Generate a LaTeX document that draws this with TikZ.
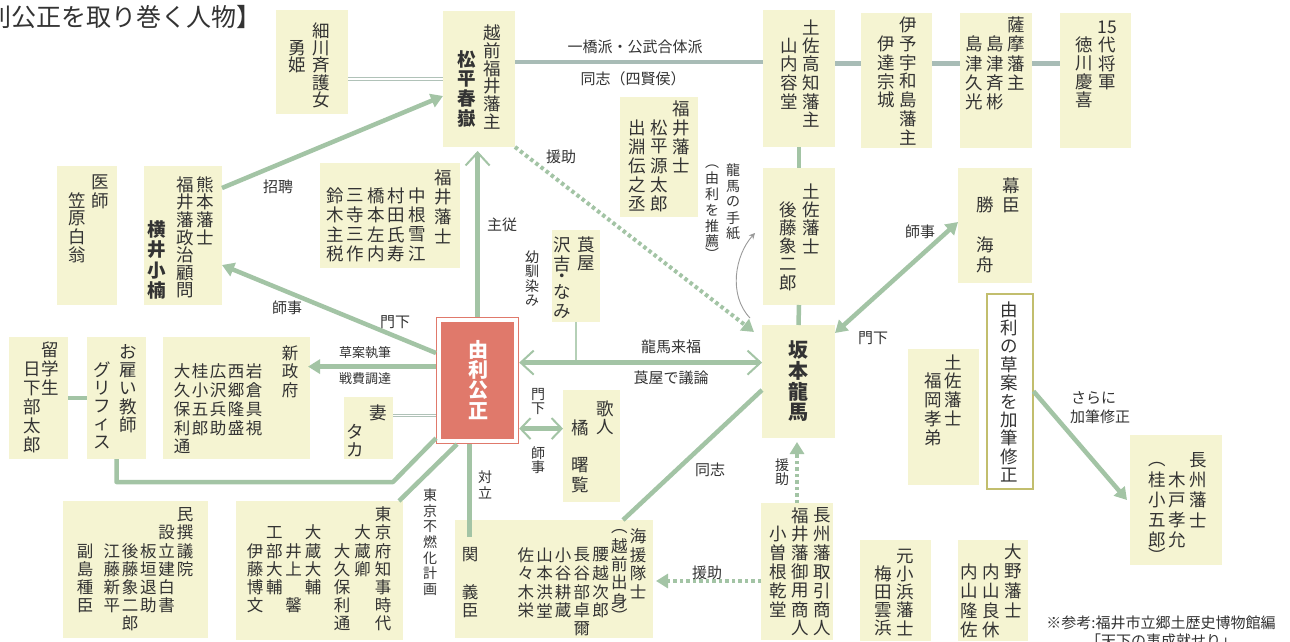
\documentclass[tikz,border=0pt]{standalone}
\usepackage{fontspec}
\setmainfont{Noto Sans CJK JP}
\usetikzlibrary{arrows.meta}
\definecolor{boxfill}{HTML}{F5F4D2}
\definecolor{lnk}{HTML}{A3C4A5}
\definecolor{toplnk}{HTML}{A8BCB6}
\definecolor{dblclr}{HTML}{B0C2B8}
\definecolor{txt}{HTML}{333333}
\definecolor{yuriclr}{HTML}{E0796B}
\definecolor{soanclr}{HTML}{C2BE6E}
\definecolor{curvclr}{HTML}{9A9A9A}
\ExplSyntaxOn
\dim_new:N \l_vt_colw_dim
\dim_new:N \l_vt_rowh_dim
\seq_new:N \l_vt_cols_seq
\cs_new_protected:Npn \vt_cell:nn #1#2
  {
    \hbox_to_wd:nn { \l_vt_colw_dim }
      { \hss \vbox_to_ht:nn { #1 \l_vt_rowh_dim } { \vss \hbox:n {#2} \vss } \hss }
  }
\cs_new_protected:Npn \vt_char:n #1
  {
    \str_case:nnF {#1}
      {
        { ︵ } { \vt_cell:nn { 0.5 } {#1} }
        { ︶ } { \vt_cell:nn { 0.5 } {#1} }
        { ・ } { \vt_cell:nn { 0.5 } {#1} }
        { . } { \vt_cell:nn { 0.5 } { } }
      }
      { \vt_cell:nn { 1 } {#1} }
  }
\cs_new_protected:Npn \vt_col:n #1
  {
    \vbox_top:n
      {
        \offinterlineskip
        \hbox_to_wd:nn { \l_vt_colw_dim } { }
        \tl_map_function:nN {#1} \vt_char:n
      }
  }
\NewDocumentCommand \vt { m m m }
  {
    \dim_set:Nn \l_vt_colw_dim {#1}
    \dim_set:Nn \l_vt_rowh_dim {#2}
    \seq_set_split:Nnn \l_vt_cols_seq { | } {#3}
    \seq_reverse:N \l_vt_cols_seq
    \hbox:n { \seq_map_function:NN \l_vt_cols_seq \vt_col:n }
  }
\ExplSyntaxOff
\tikzset{
  ybox/.style={fill=boxfill, draw=none, inner sep=0pt, outer sep=0pt, anchor=north west},
  vtxt/.style={anchor=north east, inner sep=0pt, outer sep=0pt, text=txt, font=\fontsize{17.5}{17.5}\selectfont},
  vsmall/.style={font=\fontsize{16.5}{16.5}\selectfont},
  vbold/.style={font=\fontsize{18.5}{18.5}\selectfont\bfseries},
  vbig/.style={font=\fontsize{20}{20}\selectfont\bfseries},
  vyuri/.style={font=\fontsize{20}{20}\selectfont\bfseries, text=white},
  vlbl/.style={font=\fontsize{14}{14}\selectfont},
  lbl/.style={inner sep=0pt, text=txt, font=\fontsize{15}{15}\selectfont},
  slbl/.style={inner sep=0pt, text=txt, font=\fontsize{13}{13}\selectfont},
  link/.style={draw=lnk, line width=4.5pt},
  toplink/.style={draw=toplnk, line width=4.5pt},
  dbllink/.style={draw=dblclr, double=white, line width=1pt, double distance=1.6pt},
  dotlink/.style={draw=lnk, line width=4pt, dash pattern=on 3.5pt off 3pt},
  thinlink/.style={draw=lnk!80, line width=2pt},
  curvlink/.style={draw=curvclr, line width=0.9pt},
  tritip/.style={-{Triangle[length=12pt,width=14pt]}},
  bothtri/.style={{Triangle[length=12pt,width=14pt]}-{Triangle[length=12pt,width=14pt]}},
  barbtip/.style={-{Straight Barb[length=13pt,width=24pt,line width=2pt]}},
  bothbarb/.style={{Straight Barb[length=13pt,width=24pt,line width=2pt]}-{Straight Barb[length=13pt,width=24pt,line width=2pt]}},
  smallbarb/.style={{Straight Barb[length=10pt,width=21pt,line width=2pt]}-{Straight Barb[length=10pt,width=21pt,line width=2pt]}},
}
\newcommand\ybox[5]{\node[ybox,minimum width={#4pt-#2pt},minimum height={#5pt-#3pt}] (#1) at (#2,#3) {};}
\newcommand\vtn[7][]{\node[vtxt,#1] (#2) at ({#3+#5/2},{#4-#6/2}) {\vt{#5pt}{#6pt}{#7}};}
\begin{document}
\begin{tikzpicture}[x=1pt,y=-1pt]
\useasboundingbox (0,0) rectangle (1290,642);
\clip (0,0) rectangle (1290,642);
\fill[white] (0,0) rectangle (1290,642);
% boxes
\ybox{hosokawa}{276}{10}{348}{114}
\ybox{matsu}{443}{11}{515}{147}
\ybox{yamauchi}{763}{10}{835}{147}
\ybox{date}{861}{13}{932}{148}
\ybox{shimazu}{960}{13}{1032}{148}
\ybox{tokugawa}{1060}{13}{1131}{148}
\ybox{fukui}{620}{97}{698}{217}
\ybox{kasahara}{57}{166}{117}{305}
\ybox{yokoi}{144}{166}{222}{305}
\ybox{nakane}{320}{163}{460}{268}
\ybox{tabako}{552}{230}{600}{322}
\ybox{goto}{763}{168}{835}{305}
\ybox{katsu}{958}{168}{1032}{283}
\ybox{sakamoto}{762}{325}{835}{438}
\ybox{fukuoka}{908}{349}{979}{485}
\ybox{kido}{1130}{435}{1222}{565}
\ybox{kusakabe}{9}{337}{68}{459}
\ybox{griffis}{87}{337}{146}{459}
\ybox{seifu}{163}{337}{310}{459}
\ybox{tsuma}{344}{397}{393}{459}
\ybox{minsen}{63}{501}{208}{638}
\ybox{tokyo}{236}{501}{403}{640}
\ybox{kaien}{455}{520}{653}{638}
\ybox{choshu}{761}{503}{833}{640}
\ybox{umeda}{860}{540}{931}{641}
\ybox{uchiyama}{958}{540}{1028}{641}
\ybox{kajin}{563}{390}{620}{502}
\node[draw=yuriclr, line width=1.2pt, fill=white, inner sep=0pt, anchor=north west, minimum width=82pt, minimum height=126pt] (yuri) at (436,317) {};
\node[fill=yuriclr, inner sep=0pt, minimum width=73pt, minimum height=117pt] (yurifill) at (yuri.center) {};
\node[draw=soanclr, line width=1.5pt, fill=white, inner sep=0pt, anchor=north west, minimum width=46pt, minimum height=195pt] (soan) at (986,293) {};
% connectors
\draw[dbllink] (hosokawa.east |- matsu.west) -- (matsu.west);
\coordinate (c1) at ([yshift=17pt]matsu.east);
\draw[toplink] (c1) -- (c1 -| yamauchi.west);
\coordinate (c2) at ([yshift=15pt]yamauchi.east);
\draw[toplink] (c2) -- (c2 -| date.west);
\draw[toplink] (c2 -| date.east) -- (c2 -| shimazu.west);
\draw[toplink] (c2 -| shimazu.east) -- (c2 -| tokugawa.west);
\draw[link] (yamauchi.south) -- (goto.north);
\draw[link] (goto.south) -- (sakamoto.north);
\draw[link, tritip] ([yshift=-22pt]yokoi.north east) -- ([yshift=-85pt]matsu.north west);
\draw[link, tritip] ([yshift=-36pt]yuri.north west) -- ([yshift=-99pt]yokoi.north east);
\draw[link, barbtip, shorten >=4pt] (yuri.north) -- (yuri.north |- matsu.south);
\draw[dotlink, tritip] (matsu.south east) -- ([xshift=-8pt,yshift=-7pt]sakamoto.north west);
\coordinate (rl) at ([yshift=18pt]yuri.east);
\draw[thinlink] (tabako.south) -- (tabako.south |- rl);
\draw[link, bothbarb] (rl) -- (rl -| sakamoto.west);
\coordinate (sk) at ([yshift=14pt]yuri.west);
\draw[link, tritip, shorten >=-2pt] (sk) -- (sk -| seifu.east);
\coordinate (tm) at ([yshift=-48pt]yuri.east);
\draw[link, smallbarb] (tm) -- (tm -| kajin.west);
\coordinate (ts) at ([yshift=-35pt]yuri.west);
\draw[dbllink] (ts) -- (ts -| tsuma.east);
\coordinate (g1) at ([yshift=-23pt]griffis.south);
\coordinate (g2) at (g1 -| yuri.south west);
\coordinate (g3) at ([xshift=-43pt]g2);
\draw[link, line join=round] (griffis.south) -- (g1) -- (g3) -- ([yshift=6pt]yuri.south west);
\draw[link] ([xshift=21pt]yuri.south west) -- ([xshift=-4pt]tokyo.north east);
\coordinate (t1) at ([xshift=-8pt]yuri.south);
\coordinate (t2) at ([yshift=-17pt]kaien.north west);
\draw[link] (t1) -- (t1 |- t2);
\draw[link] ([yshift=-8.5pt]sakamoto.west) -- ([xshift=-30pt]kaien.north east);
\draw[link, bothtri] ([yshift=-8pt]sakamoto.north east) -- ([yshift=3.5pt]katsu.west);
\draw[curvlink, -{Stealth[length=6pt,width=6pt]}] ([xshift=-12pt,yshift=7pt]sakamoto.north west) .. controls +(-22,-23) and +(-20,22) .. ([xshift=-8pt,yshift=3.5pt]goto.west);
\draw[link, tritip] (soan.east) -- ([xshift=-3pt,yshift=-65pt]kido.north west);
\draw[dotlink, tritip, shorten >=4pt] (choshu.north) -- (choshu.north |- sakamoto.south);
\coordinate (e1) at ([yshift=-9.5pt]choshu.west);
\draw[dotlink, tritip, shorten >=3pt] (e1) -- (e1 -| kaien.east);
\draw[link] (kusakabe.east) -- (griffis.west);
% texts
\vtn{t-hosokawa}{321}{30.5}{24}{17.4}{細川斉護女|　勇姫}
\vtn{t-matsu}{492}{33}{24}{17.8}{越前福井藩主}
\vtn[vbold]{t-matsu2}{467}{59}{24}{19.7}{松平春嶽}
\vtn{t-yamauchi}{811}{27}{22}{18.6}{土佐高知藩主|　山内容堂}
\vtn{t-date}{908}{25}{22}{18.8}{伊予宇和島藩主|　伊達宗城}
\vtn{t-shimazu}{1016}{25}{21}{19.2}{薩摩藩主|　島津斉彬|　島津久光}
\vtn{t-toku}{1107}{27}{23}{18.3}{{15}代将軍|　徳川慶喜}
\vtn{t-fukui}{681}{109}{22}{18.9}{福井藩士|　松平源太郎|　出淵伝之丞}
\vtn{t-kasahara}{100}{182.5}{23}{18.1}{医師|　笠原白翁}
\vtn{t-yokoi}{205}{184.5}{20}{17.7}{熊本藩士|福井藩政治顧問}
\vtn[vbold]{t-yokoi2}{157}{229.5}{22}{20.3}{横井小楠}
\vtn{t-nakane1}{443}{177.5}{20}{19.5}{福井藩士}
\vtn{t-nakane2}{417}{195.5}{20.5}{19.5}{中根雪江|村田氏寿|橋本左内|三寺三作|鈴木主税}
\vtn{t-tabako}{586}{244.5}{24}{19}{莨屋|沢吉・なみ}
\vtn{t-goto}{811}{191.5}{23}{18.2}{土佐藩士|　後藤象二郎}
\vtn{t-katsu}{1011}{185.5}{26}{19.8}{幕臣|　勝　海舟}
\vtn[vbig]{t-sakamoto}{798}{350}{26}{20.8}{坂本龍馬}
\vtn[vyuri]{t-yuri}{478}{350}{26}{20.3}{由利公正}
\vtn{t-soan}{1009}{310}{22}{18.3}{由利の草案を加筆修正}
\vtn{t-fukuoka}{953}{362.5}{20}{18.75}{土佐藩士|　福岡孝弟}
\vtn{t-kido}{1198}{460}{20.5}{20}{長州藩士|　木戸孝允|.︵桂小五郎︶}
\vtn{t-kusakabe}{50}{350}{18}{19}{留学生|　日下部太郎}
\vtn{t-griffis}{128}{352}{26}{18.2}{お雇い教師|　グリフィス}
\vtn[vsmall]{t-seifu}{290}{353}{18}{18.7}{新政府|　|　岩倉具視|　西郷隆盛|　広沢兵助|　桂小五郎|　大久保利通}
\vtn{t-tsuma}{378}{413}{23}{18.5}{妻|　タカ}
\vtn[vsmall]{t-minsen1}{185}{514.5}{18.3}{18.2}{民撰議院|　設立建白書|　　板垣退助|　　後藤象二郎|　　江藤新平}
\vtn[vsmall]{t-minsen2}{85}{514.5}{18.3}{18.2}{　　副島種臣}
\vtn[vsmall]{t-tokyo1}{383}{514.5}{20.5}{18.2}{東京府知事時代|　大蔵卿|　　大久保利通}
\vtn[vsmall]{t-tokyo2}{313}{514.5}{19.3}{18.2}{　大蔵大輔|　　井上　馨|　工部大輔|　　伊藤博文}
\vtn[vsmall]{t-kaien1}{638}{536.5}{18.7}{18.5}{海援隊士|︵越前出身︶|　腰越次郎|　長谷部卓爾|　小谷耕蔵|　山本洪堂|　佐々木栄}
\vtn[vsmall]{t-kaien2}{470}{536.5}{20}{18.5}{　関　義臣}
\vtn{t-choshu}{822}{515.5}{22}{18.8}{長州藩取引商人|福井藩御用商人|　小曽根乾堂}
\vtn{t-umeda}{905}{556}{22}{18.1}{元小浜藩士|　梅田雲浜}
\vtn{t-uchiyama}{1013}{552}{22}{19.5}{大野藩士|　内山良休|　内山隆佐}
\vtn{t-kajin}{605}{408.5}{25}{19}{歌人|　橘　曙覧}
% vertical labels
\vtn[vlbl]{l-osana}{532}{257}{17}{14.5}{幼馴染み}
\vtn[vlbl]{l-tegami}{733}{170.5}{21}{15.8}{龍馬の手紙|︵由利を推薦︶}
\vtn[vlbl]{l-monka2}{538}{395}{17}{14}{門下}
\vtn[vlbl]{l-shiji2}{538}{453.5}{17}{13.5}{師事}
\vtn[vlbl]{l-tairitsu}{485}{477}{17}{16}{対立}
\vtn[vlbl]{l-tokyo}{430}{495}{17}{15.7}{東京不燃化計画}
\vtn[vlbl]{l-enjo3}{782}{465}{17}{14.5}{援助}
% horizontal labels
\node[anchor=west, inner sep=0pt, text=txt, font=\fontsize{25}{25}\selectfont] (title) at (-39,17) {由利公正を取り巻く人物】};
\node[lbl] (lb-hitotsu) at (635,47) {一橋派・公武合体派};
\node[lbl] (lb-doshi1) at (633,79) {同志（四賢侯）};
\node[lbl] (lb-shohei) at (278,187) {招聘};
\node[lbl] (lb-shiji1) at (287,308) {師事};
\node[lbl] (lb-monka1) at (395,322) {門下};
\node[lbl] (lb-enjo1) at (561,157) {援助};
\node[lbl] (lb-shuju) at (502,225) {主従};
\node[slbl] (lb-soan) at (365,353) {草案執筆};
\node[slbl] (lb-senpi) at (365,379) {戦費調達};
\node[lbl] (lb-raifuku) at (671,347) {龍馬来福};
\node[lbl] (lb-giron) at (671,378) {莨屋で議論};
\node[lbl] (lb-shiji3) at (920,232) {師事};
\node[lbl] (lb-monka3) at (873,338) {門下};
\node[lbl] (lb-doshi2) at (710,470) {同志};
\node[lbl] (lb-enjo2) at (707,573) {援助};
\node[lbl, anchor=west] (lb-sarani) at (1071,398) {さらに};
\node[lbl, anchor=west] (lb-kahitsu) at (1070,417) {加筆修正};
\node[lbl] (lb-ref1) at (1161,623) {※参考:福井市立郷土歴史博物館編};
\node[lbl] (lb-ref2) at (1161,641) {「天下の事成就せり」};
\end{tikzpicture}
\end{document}
